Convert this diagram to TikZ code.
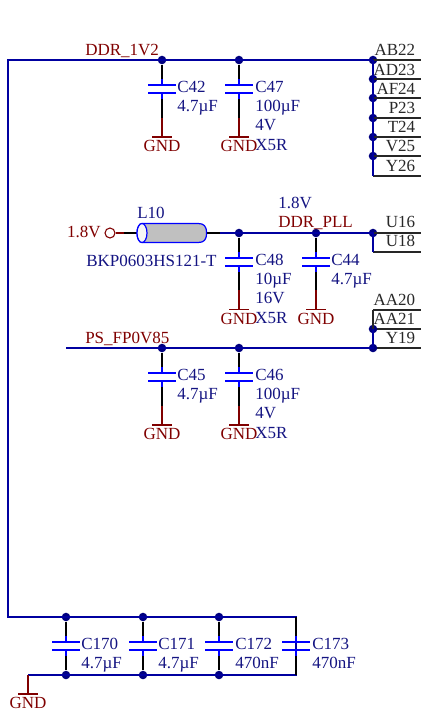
\documentclass[tikz,border=0pt]{standalone}
\usepackage{fontspec}
\setmainfont{Liberation Serif}
\definecolor{netblue}{RGB}{0,0,160}
\definecolor{plateblue}{RGB}{0,0,255}
\definecolor{navytext}{RGB}{20,20,130}
\definecolor{darkred}{RGB}{128,0,0}
\definecolor{dotnavy}{RGB}{0,0,128}
\definecolor{pintext}{RGB}{40,40,40}
\definecolor{bodygray}{RGB}{192,192,192}
\tikzset{
  x=0.75pt,y=-0.75pt,
  txt/.style={inner sep=0pt,yshift=-1.3pt,font=\fontsize{12.75}{14}\selectfont},
  valtext/.style={txt,text=navytext,anchor=mid west},
  reftext/.style={txt,text=navytext,anchor=mid west},
  nettext/.style={txt,text=darkred,anchor=mid west},
  gndtext/.style={txt,text=darkred,anchor=mid},
  pintxt/.style={txt,text=pintext,anchor=mid east},
  junction/.style={circle,fill=dotnavy,inner sep=0pt,minimum size=6.4pt},
  net/.style={draw=netblue,line width=1.1pt},
  leadwire/.style={draw=black,line width=1.1pt},
  redwire/.style={draw=darkred,line width=1.1pt},
  platewire/.style={draw=plateblue,line width=1.1pt},
  pinline/.style={draw=black!85,line width=1.1pt},
}
% name, x, y of upper plate
\newcommand{\capsym}[3]{%
  \coordinate (#1-t) at (#2,#3-6);
  \coordinate (#1-b) at (#2,#3+14);
  \coordinate (#1-u) at (#2,#3);
  \coordinate (#1-l) at (#2,#3+8);
  \draw[platewire] (#1-t) -- (#1-u);
  \draw[platewire] (#1-l) -- (#1-b);
  \draw[draw=plateblue,line width=1.4pt] (#2-14,#3) -- (#2+14,#3);
  \draw[draw=plateblue,line width=1.4pt] (#2-14,#3+8) -- (#2+14,#3+8);
}
% name, x, y of top of red lead, y of bar
\newcommand{\gndsym}[4]{%
  \coordinate (#1-s) at (#2,#3);
  \coordinate (#1-e) at (#2,#4);
  \draw[redwire] (#1-s) -- (#1-e);
  \draw[redwire] (#2-10,#4) -- (#2+10,#4);
  \node[gndtext] (#1-txt) at (#2,#4+10) {GND};
}
\begin{document}
\begin{tikzpicture}
\useasboundingbox (0,0) rectangle (421,715);
\fill[white] (0,0) rectangle (421,715);

% ---- top rail
\coordinate (cnrTL) at (8,60);
\coordinate (cnrBL) at (8,617);
\coordinate (p7) at (373,176);
\coordinate (b4) at (296,617);
\coordinate (g4) at (296,675);
\coordinate (g0) at (28,675);
\node[junction] (j1) at (162,60) {};
\node[junction] (j2) at (239,60) {};
\node[junction] (p1) at (373,60) {};
\node[junction] (p2) at (373,79) {};
\node[junction] (p3) at (373,98) {};
\node[junction] (p4) at (373,118) {};
\node[junction] (p5) at (373,137) {};
\node[junction] (p6) at (373,156) {};
\node[junction] (b1) at (66,617) {};
\node[junction] (b2) at (143,617) {};
\node[junction] (b3) at (219,617) {};
\node[junction] (g1) at (66,675) {};
\node[junction] (g2) at (143,675) {};
\node[junction] (g3) at (219,675) {};

\foreach \n/\y in {1/60,2/79,3/98,4/118,5/137,6/156,7/176}
  \draw[pinline] (373,\y) -- (421,\y);
\draw[net] (p1.center) -- (p7);
\draw[net] (g0) -- (g4) -- (b4) -- (cnrBL) -- (cnrTL) -- (p1.center);

\capsym{c42}{162}{85}
\capsym{c47}{239}{85}
\draw[leadwire] (j1) -- (c42-t);
\draw[leadwire] (j2) -- (c47-t);
\gndsym{gnd42}{162}{118}{137}
\gndsym{gnd47}{239}{118}{137}
\draw[leadwire] (c42-b) -- (gnd42-s);
\draw[leadwire] (c47-b) -- (gnd47-s);

\node[nettext] (ddr1v2) at (85,51) {DDR\_1V2};
\node[reftext] (t42) at (177,88) {C42};
\node[valtext] (v42) at (177,107) {4.7µF};
\node[reftext] (t47) at (255,88) {C47};
\node[valtext] (v47) at (255,107) {100µF};
\node[valtext] (w47) at (255,126) {4V};
\node[valtext] (x47) at (255,146) {X5R};

\node[pintxt] (AB22) at (415.5,51) {AB22};
\node[pintxt] (AD23) at (415.5,71) {AD23};
\node[pintxt] (AF24) at (415.5,90) {AF24};
\node[pintxt] (P23) at (415.5,109) {P23};
\node[pintxt] (T24) at (415.5,128) {T24};
\node[pintxt] (V25) at (415.5,147) {V25};
\node[pintxt] (Y26) at (415.5,167) {Y26};

% ---- DDR_PLL
\node[txt,text=darkred,anchor=mid east] (src) at (101,233) {1.8V};
\node[circle,draw=darkred,line width=0.8pt,minimum size=7.5pt,inner sep=0pt] (srcpin) at (110,233) {};
\coordinate (lA) at (124,233);
\coordinate (lL) at (137,233);
\coordinate (lR) at (206,233);
\coordinate (lB) at (220,233);
\node[junction] (j3) at (239,233) {};
\node[junction] (j4) at (316,233) {};
\node[junction] (p8) at (373,233) {};
\coordinate (p9) at (373,252);
\draw[redwire] (srcpin) -- (lA);
\draw[leadwire] (lA) -- (lL);
\draw[leadwire] (lR) -- (lB);
\draw[pinline] (p8.center) -- (421,233);
\draw[pinline] (p9) -- (421,252);
\draw[net] (lB) -- (p8.center) -- (p9);
\draw[draw=plateblue,fill=bodygray,line width=0.9pt]
  (142,223.5) -- (198,223.5) .. controls (204,223.5) and (206.5,226) .. (206.5,233)
  .. controls (206.5,240) and (204,242.5) .. (198,242.5) -- (142,242.5)
  .. controls (139,242.5) and (137,238) .. (137,233)
  .. controls (137,228) and (139,223.5) .. (142,223.5) -- cycle;
\draw[draw=plateblue,fill=white!85!bodygray,line width=0.9pt] (142,233) ellipse [x radius=5,y radius=9.5];

\node[reftext] (L10) at (137,214) {L10};
\node[reftext] (BKP) at (86,262) {BKP0603HS121-T};
\node[reftext] (v18) at (278,204) {1.8V};
\node[nettext] (ddrpll) at (278,223) {DDR\_PLL};
\node[pintxt] (U16) at (415.5,223) {U16};
\node[pintxt] (U18) at (415.5,242) {U18};

\capsym{c48}{239}{258}
\capsym{c44}{316}{258}
\draw[leadwire] (j3) -- (c48-t);
\draw[leadwire] (j4) -- (c44-t);
\gndsym{gnd48}{239}{290}{309.5}
\gndsym{gnd44}{316}{290}{309.5}
\draw[leadwire] (c48-b) -- (gnd48-s);
\draw[leadwire] (c44-b) -- (gnd44-s);
\node[reftext] (t48) at (255,261) {C48};
\node[valtext] (v48) at (255,280) {10µF};
\node[valtext] (w48) at (255,299) {16V};
\node[valtext] (x48) at (255,319) {X5R};
\node[reftext] (t44) at (331,261) {C44};
\node[valtext] (v44) at (331,280) {4.7µF};

% ---- PS_FP0V85
\coordinate (psL) at (66,348);
\coordinate (p10) at (373,310);
\draw[pinline] (p10) -- (421,310);
\draw[pinline] (373,329) -- (421,329);
\draw[pinline] (373,348) -- (421,348);
\node[junction] (j5) at (162,348) {};
\node[junction] (j6) at (239,348) {};
\node[junction] (p11) at (373,329) {};
\node[junction] (p12) at (373,348) {};
\draw[net] (psL) -- (p12.center) -- (p11.center);
\draw[pinline] (p11.center) -- (p10);
\capsym{c45}{162}{373}
\capsym{c46}{239}{373}
\draw[leadwire] (j5) -- (c45-t);
\draw[leadwire] (j6) -- (c46-t);
\gndsym{gnd45}{162}{406}{425}
\gndsym{gnd46}{239}{406}{425}
\draw[leadwire] (c45-b) -- (gnd45-s);
\draw[leadwire] (c46-b) -- (gnd46-s);
\node[nettext] (ps) at (85,339) {PS\_FP0V85};
\node[pintxt] (AA20) at (415.5,301) {AA20};
\node[pintxt] (AA21) at (415.5,320) {AA21};
\node[pintxt] (Y19) at (415.5,339) {Y19};
\node[reftext] (t45) at (177,376) {C45};
\node[valtext] (v45) at (177,395) {4.7µF};
\node[reftext] (t46) at (255,376) {C46};
\node[valtext] (v46) at (255,395) {100µF};
\node[valtext] (w46) at (255,414) {4V};
\node[valtext] (x46) at (255,434) {X5R};

% ---- bottom bank
\capsym{c170}{66}{642}
\capsym{c171}{143}{642}
\capsym{c172}{219}{642}
\capsym{c173}{296}{642}
\draw[leadwire] (b1) -- (c170-t);
\draw[leadwire] (c170-b) -- (g1);
\draw[leadwire] (b2) -- (c171-t);
\draw[leadwire] (c171-b) -- (g2);
\draw[leadwire] (b3) -- (c172-t);
\draw[leadwire] (c172-b) -- (g3);
\draw[leadwire] (b4) -- (c173-t);
\draw[leadwire] (c173-b) -- (g4);
\gndsym{gnd0}{28}{675}{694}
\node[reftext] (t170) at (81,645) {C170};
\node[valtext] (v170) at (81,664) {4.7µF};
\node[reftext] (t171) at (158,645) {C171};
\node[valtext] (v171) at (158,664) {4.7µF};
\node[reftext] (t172) at (235,645) {C172};
\node[valtext] (v172) at (235,664) {470nF};
\node[reftext] (t173) at (312,645) {C173};
\node[valtext] (v173) at (312,664) {470nF};
\end{tikzpicture}
\end{document}
